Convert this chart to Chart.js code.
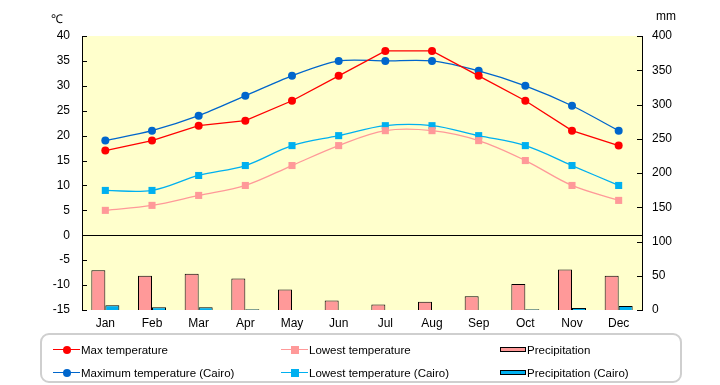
<!DOCTYPE html>
<html>
<head>
<meta charset="utf-8">
<script src="https://cdn.jsdelivr.net/npm/chart.js@4/dist/chart.umd.min.js"></script>
<style>
  html, body { margin: 0; padding: 0; background: #fff; }
  #wrap { position: relative; width: 720px; height: 385px; font-family: "Liberation Sans", Arial, sans-serif; }
  #c { position: absolute; left: 0; top: 0; }
  .unit { position: absolute; font-size: 12px; color: #000; }
  #legend { position: absolute; left: 40px; top: 333px; width: 638px; height: 46px;
            border: 2px solid #cfcfcf; border-radius: 9px; box-sizing: content-box; }
  .item { position: absolute; font-size: 11.5px; color: #000; white-space: nowrap; line-height: 14px; }
  .sample { position: absolute; }
</style>
</head>
<body>
<div id="wrap">
  <canvas id="c" width="720" height="385"></canvas>
  <div class="unit" style="left:51px; top:10px;">℃</div>
  <div class="unit" style="left:656px; top:9px;">mm</div>
  <div id="legend"></div>
</div>
<script>
// --- données ---
const months = ['Jan', 'Feb', 'Mar', 'Apr', 'May', 'Jun', 'Jul', 'Aug', 'Sep', 'Oct', 'Nov', 'Dec'];
const maxTemp = [17, 19, 22, 23, 27, 32, 37, 37, 32, 27, 21, 18];
const lowTemp = [5, 6, 8, 10, 14, 18, 21, 21, 19, 15, 10, 7];
const cairoMax = [19, 21, 24, 28, 32, 35, 35, 35, 33, 30, 26, 21];
const cairoLow = [9, 9, 12, 14, 18, 20, 22, 22, 20, 18, 14, 10];
const precip = [58, 50, 53, 46, 30, 14, 8, 12, 20, 38, 59, 50];
const cairoPrecip = [7, 4, 4, 1, 0, 0, 0, 0, 0, 1, 3, 6];

const tickFont = { family: '"Liberation Sans", Arial, sans-serif', size: 12 };

// fond jaune, ligne du zéro et petites graduations intérieures
const plotDecor = {
    id: 'plotDecor',
    beforeDraw(chart) {
        const { ctx, chartArea: a } = chart;
        ctx.save();
        ctx.fillStyle = '#FFFFCC';
        ctx.fillRect(a.left, a.top, a.right - a.left, a.bottom - a.top);
        ctx.restore();
    },
    beforeDatasetsDraw(chart) {
        const { ctx, chartArea: a } = chart;
        ctx.save();
        ctx.strokeStyle = '#000';
        ctx.lineWidth = 1;
        const y0 = Math.round(chart.scales.y.getPixelForValue(0)) + 0.5;
        ctx.beginPath();
        ctx.moveTo(a.left, y0);
        ctx.lineTo(a.right, y0);
        ctx.stroke();
        ctx.restore();
    },
    afterDraw(chart) {
        const { ctx, chartArea: a } = chart;
        ctx.save();
        ctx.strokeStyle = '#000';
        ctx.lineWidth = 1;
        ctx.beginPath();
        chart.scales.y.ticks.forEach(t => {
            const y = Math.round(chart.scales.y.getPixelForValue(t.value)) + 0.5;
            ctx.moveTo(a.left, y);
            ctx.lineTo(a.left + 5, y);
        });
        chart.scales.y2.ticks.forEach(t => {
            const y = Math.round(chart.scales.y2.getPixelForValue(t.value)) + 0.5;
            ctx.moveTo(a.right - 5, y);
            ctx.lineTo(a.right, y);
        });
        ctx.stroke();
        ctx.restore();
    }
};

const lineStyle = (label, data, color, pointStyle, radius, tension) => ({
    type: 'line',
    label: label,
    data: data,
    yAxisID: 'y',
    borderColor: color,
    backgroundColor: color,
    pointBackgroundColor: color,
    pointBorderColor: color,
    borderWidth: 1.3,
    pointStyle: pointStyle,
    pointRadius: radius,
    pointBorderWidth: 0,
    tension: tension,
    order: 1
});

const datasets = [
    lineStyle('Max temperature', maxTemp, '#FF0000', 'circle', 4, 0),
    lineStyle('Lowest temperature', lowTemp, '#FF9999', 'rect', 5, 0.35),
    {
        type: 'bar', label: 'Precipitation', data: precip, yAxisID: 'y2',
        backgroundColor: '#FF9999', borderColor: '#000', borderWidth: 1, order: 2
    },
    lineStyle('Maximum temperature (Cairo)', cairoMax, '#0066CC', 'circle', 4, 0.3),
    lineStyle('Lowest temperature (Cairo)', cairoLow, '#00B0F0', 'rect', 5, 0.35),
    {
        type: 'bar', label: 'Precipitation (Cairo)', data: cairoPrecip, yAxisID: 'y2',
        backgroundColor: '#00B0F0', borderColor: '#000', borderWidth: 1, order: 2
    }
];

const chart = new Chart(document.getElementById('c'), {
    type: 'bar',
    data: { labels: months, datasets: datasets },
    options: {
        responsive: false,
        animation: false,
        layout: { padding: { top: 36, left: 0, right: 0, bottom: 0 } },
        datasets: { bar: { categoryPercentage: 0.6, barPercentage: 1.0 } },
        plugins: { legend: { display: false }, tooltip: { enabled: false } },
        scales: {
            x: {
                grid: { display: false, drawTicks: false },
                border: { display: false },
                ticks: { color: '#000', font: tickFont, padding: 6, maxRotation: 0 },
                afterFit(s) { s.height = 75; }
            },
            y: {
                position: 'left', min: -15, max: 40,
                grid: { display: false, drawTicks: false },
                border: { display: true, color: '#000', width: 1 },
                ticks: { stepSize: 5, color: '#000', font: tickFont, padding: 12 },
                afterFit(s) { s.width = 82; }
            },
            y2: {
                position: 'right', min: 0, max: 400,
                grid: { display: false, drawTicks: false },
                border: { display: true, color: '#000', width: 1 },
                ticks: { stepSize: 50, color: '#000', font: tickFont, padding: 10 },
                afterFit(s) { s.width = 78; }
            }
        }
    },
    plugins: [plotDecor]
});

// légende HTML sur 3 colonnes
const legend = document.getElementById('legend');
const colX = [11, 239, 458];
const rowY = [8, 31];
datasets.forEach((ds, i) => {
    const col = i % 3, row = Math.floor(i / 3);
    const x = colX[col], y = rowY[row];
    if (ds.type === 'line') {
        const line = document.createElement('div');
        line.className = 'sample';
        line.style.cssText = `left:${x}px;top:${y + 6}px;width:27px;height:0;border-top:1.5px solid ${ds.borderColor};`;
        legend.appendChild(line);
        const m = document.createElement('div');
        m.className = 'sample';
        m.style.cssText = `left:${x + 10}px;top:${y + 3}px;width:8px;height:8px;background:${ds.borderColor};` +
            (ds.pointStyle === 'circle' ? 'border-radius:50%;' : '');
        legend.appendChild(m);
    } else {
        const b = document.createElement('div');
        b.className = 'sample';
        b.style.cssText = `left:${x}px;top:${y + 4}px;width:24px;height:3px;background:${ds.backgroundColor};border:1px solid #000;`;
        legend.appendChild(b);
    }
    const t = document.createElement('div');
    t.className = 'item';
    t.style.left = (x + (ds.type === 'line' ? 28 : 27)) + 'px';
    t.style.top = y + 'px';
    t.textContent = ds.label;
    legend.appendChild(t);
});
</script>
</body>
</html>
